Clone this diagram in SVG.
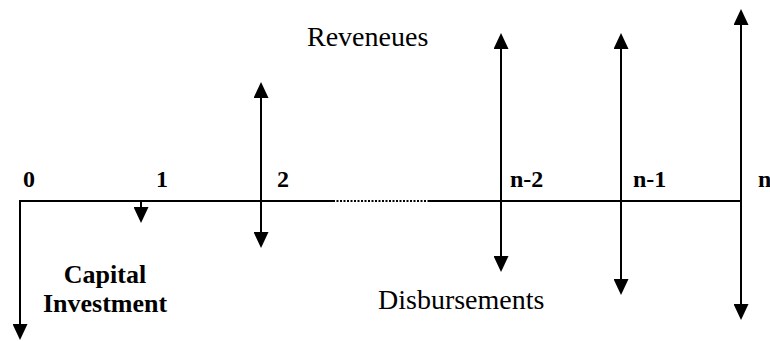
<svg xmlns="http://www.w3.org/2000/svg" width="770" height="341" viewBox="0 0 770 341">
<defs>
<marker id="ah" viewBox="0 0 16 15" refX="13" refY="7.5" markerWidth="16" markerHeight="15" markerUnits="userSpaceOnUse" orient="auto-start-reverse">
<path d="M0,0 L16,7.5 L0,15 Z" fill="#000"/>
</marker>
</defs>
<style>
.ax{stroke:#000;stroke-width:2;fill:none}
.dot{stroke:#000;stroke-width:2;stroke-dasharray:2 1.5;fill:none}
.ar{stroke:#000;stroke-width:2;fill:none}
text{font-family:'Liberation Serif','Times New Roman',Times,serif;fill:#000}
.lb{font-weight:bold;font-size:24px}
.cap{font-weight:bold;font-size:26px}
.tx{font-size:28px}
</style>
<g id="connectors">
<line class="ax" x1="20" y1="201" x2="333" y2="201"/>
<line class="dot" x1="333" y1="201" x2="428" y2="201"/>
<line class="ax" x1="428" y1="201" x2="742" y2="201"/>
<line class="ar" x1="20" y1="200" x2="20" y2="337" marker-end="url(#ah)"/>
<line class="ar" x1="141" y1="201" x2="141" y2="220" marker-end="url(#ah)"/>
<line class="ar" x1="261" y1="85" x2="261" y2="245" marker-start="url(#ah)" marker-end="url(#ah)"/>
<line class="ar" x1="501" y1="36" x2="501" y2="269" marker-start="url(#ah)" marker-end="url(#ah)"/>
<line class="ar" x1="621" y1="36" x2="621" y2="292" marker-start="url(#ah)" marker-end="url(#ah)"/>
<line class="ar" x1="741" y1="12" x2="741" y2="317" marker-start="url(#ah)" marker-end="url(#ah)"/>
</g>
<g id="t0"><text class="lb" x="23" y="187">0</text></g>
<g id="t1"><text class="lb" x="156" y="187">1</text></g>
<g id="t2"><text class="lb" x="277" y="187">2</text></g>
<g id="tn2"><text class="lb" x="510" y="187">n-2</text></g>
<g id="tn1"><text class="lb" x="633" y="187">n-1</text></g>
<g id="tn"><text class="lb" x="758" y="187">n</text></g>
<g id="capital"><text class="cap" text-anchor="middle" x="105" y="283">Capital</text><text class="cap" text-anchor="middle" x="105" y="312">Investment</text></g>
<g id="revenues"><text class="tx" x="307" y="46">Reveneues</text></g>
<g id="disb"><text class="tx" x="378" y="309">Disbursements</text></g>
</svg>
